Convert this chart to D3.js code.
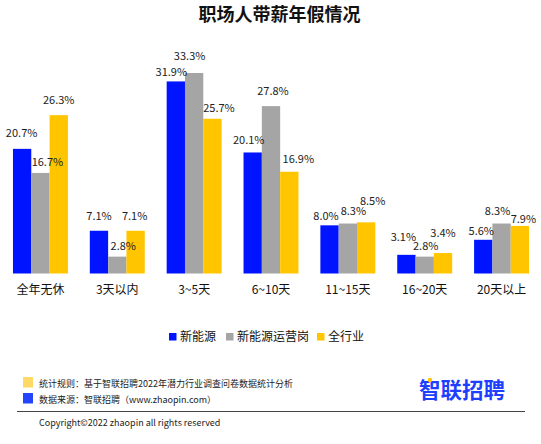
<!DOCTYPE html>
<html><head><meta charset="utf-8">
<script src="https://cdn.jsdelivr.net/npm/d3@7"></script>
<style>
html,body{margin:0;padding:0;background:#fff;}
svg{display:block;font-family:"Noto Sans CJK SC","Noto Sans",sans-serif;}
</style></head>
<body><div id="chart"></div>
<script>
const categories = ["全年无休","3天以内","3~5天","6~10天","11~15天","16~20天","20天以上"];
const seriesNames = ["新能源","新能源运营岗","全行业"];
const xinNengYuan = [20.7, 7.1, 31.9, 20.1, 8.0, 3.1, 5.6];
const yunYingGang = [16.7, 2.8, 33.3, 27.8, 8.3, 2.8, 8.3];
const quanHangYe = [26.3, 7.1, 25.7, 16.9, 8.5, 3.4, 7.9];
const seriesValues = [xinNengYuan, yunYingGang, quanHangYe];

// styling / label nudges (not data)
const colors = ["#0014FF", "#A5A5A5", "#FFC600"];
const labelDx = [
  [-0.5, 0, -4.5, -4, -3.5, -3, -2],
  [7, 6, -4.5, 2, 5.5, 1, -4],
  [0, -1, 6.5, 9, 6.5, 0, 3.5]
];
const labelGap = [
  [12, 11, 5, 8, 5, 14, 5],
  [7, 7, 13, 11, 8.5, 7, 9],
  [11, 11, 7, 9, 17, 16, 3]
];

const W = 541, H = 444;
const svg = d3.select("#chart").append("svg").attr("width", W).attr("height", H);

svg.append("text").attr("x", 279.5).attr("y", 21).attr("text-anchor","middle")
  .attr("font-size", 18).attr("font-weight", "bold").attr("fill", "#111")
  .text("职场人带薪年假情况");

const x0 = d3.scaleBand().domain(categories).range([2, 540]).paddingInner(0.285).paddingOuter(0.1425);
const x1 = d3.scaleBand().domain(d3.range(3)).range([0, x0.bandwidth()]);
const y = d3.scaleLinear().domain([0, 33.3]).range([273.5, 73]);

const g = svg.append("g");
const groups = g.selectAll("g.grp").data(categories).join("g")
  .attr("transform", d => `translate(${x0(d)},0)`);

groups.each(function(cat, ci) {
  const sel = d3.select(this);
  seriesValues.forEach((vals, si) => {
    const v = vals[ci];
    sel.append("rect")
      .attr("x", x1(si)).attr("width", x1.bandwidth())
      .attr("y", y(v)).attr("height", y(0) - y(v))
      .attr("fill", colors[si]);
  });
  seriesValues.forEach((vals, si) => {
    const v = vals[ci];
    sel.append("text")
      .attr("x", x1(si) + x1.bandwidth()/2 + labelDx[si][ci])
      .attr("y", y(v) - labelGap[si][ci])
      .attr("text-anchor", "middle").attr("font-size", 11).attr("fill", "#222")
      .text(v.toFixed(1) + "%");
  });
});

// category axis labels
const xAxis = d3.axisBottom(x0).tickSize(0).tickPadding(0);
const ax = svg.append("g").attr("transform", "translate(0,294)").call(xAxis);
ax.select(".domain").remove();
ax.selectAll("text").attr("font-size", 12).attr("fill", "#111")
  .attr("dy", 0).attr("y", 0).style("font-family", '"Noto Sans CJK SC",sans-serif');

// legend
const legendX = [169, 226, 317];
const lg = svg.append("g");
seriesNames.forEach((n, i) => {
  lg.append("rect").attr("x", legendX[i]).attr("y", 333).attr("width", 7.5).attr("height", 7.5).attr("fill", colors[i]);
  lg.append("text").attr("x", legendX[i] + 11).attr("y", 341).attr("font-size", 12).attr("fill", "#111").text(n);
});

// footer
svg.append("rect").attr("x", 23).attr("y", 377).attr("width", 10).attr("height", 10.5).attr("fill", "#FFD966");
svg.append("text").attr("x", 39).attr("y", 386.5).attr("font-size", 9).attr("fill", "#222")
  .text("统计规则：基于智联招聘2022年潜力行业调查问卷数据统计分析");
svg.append("rect").attr("x", 23).attr("y", 393).attr("width", 10).attr("height", 10.5).attr("fill", "#2444FF");
svg.append("text").attr("x", 39).attr("y", 402.5).attr("font-size", 9).attr("fill", "#222")
  .text("数据来源：智联招聘（www.zhaopin.com）");
svg.append("line").attr("x1", 17).attr("x2", 525).attr("y1", 411.5).attr("y2", 411.5)
  .attr("stroke", "#444").attr("stroke-width", 1.2);
svg.append("text").attr("x", 39).attr("y", 425.5).attr("font-size", 9).attr("fill", "#222")
  .text("Copyright©2022 zhaopin all rights reserved");

// logo
svg.append("text").attr("x", 462).attr("y", 398).attr("text-anchor", "middle")
  .attr("font-size", 21.5).attr("font-weight", "bold").attr("fill", "#1F3FFF").text("智联招聘");
svg.append("circle").attr("cx", 430).attr("cy", 380).attr("r", 2.2).attr("fill", "#FFC600");
</script></body></html>
